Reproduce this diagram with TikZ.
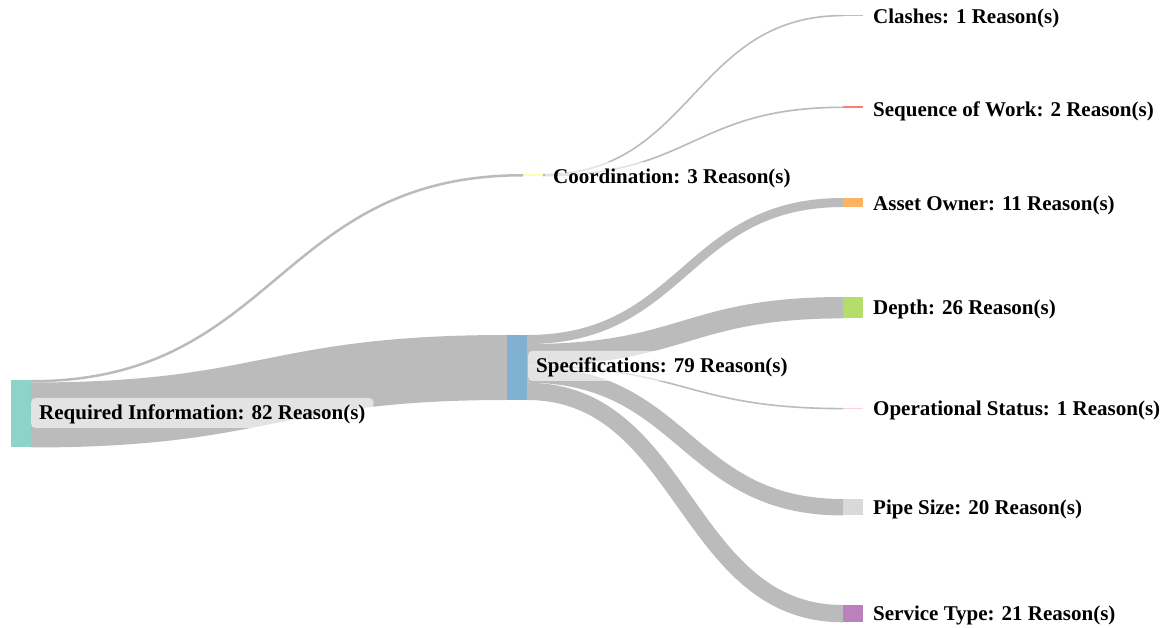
\documentclass[tikz,border=0pt]{standalone}
\usepackage{fontspec}
\setmainfont{Liberation Serif}
\usetikzlibrary{calc}

% Set3-style category colours
\definecolor{cReq}{HTML}{8DD3C7}
\definecolor{cSpec}{HTML}{80B1D3}
\definecolor{cCoord}{HTML}{FFFFB3}
\definecolor{cClash}{HTML}{BEBADA}
\definecolor{cSeq}{HTML}{FB8072}
\definecolor{cAsset}{HTML}{FDB462}
\definecolor{cDepth}{HTML}{B3DE69}
\definecolor{cOper}{HTML}{FCCDE5}
\definecolor{cPipe}{HTML}{D9D9D9}
\definecolor{cServ}{HTML}{BC80BD}
\definecolor{cFlow}{HTML}{BBBBBB}

\tikzset{
  bar/.style={rectangle, draw=none, inner sep=0pt, outer sep=0pt,
    minimum width=20pt, anchor=north west},
  flow/.style={draw=cFlow, line cap=butt},
  lbl/.style={anchor=west, font=\fontsize{21}{25}\selectfont\bfseries,
    fill=white, fill opacity=0.6, text opacity=1, rounded corners=4pt,
    inner xsep=8pt, inner ysep=4pt, text height=18pt, text depth=4pt}
}

% \sflow{source}{offset at source}{target}{offset at target}{band width}
% (drawn stroke is never thinner than 1.6pt)
\newcommand\sflow[5]{%
  \pgfmathsetmacro\sflowlw{max(#5,1.6)}%
  \draw[flow, line width=\sflowlw pt]
    let \p1=($(#1.north east)+(0,{#2+#5/2})$),
        \p2=($(#3.north west)+(0,{#4+#5/2})$) in
    (\p1) .. controls ({(\x1+\x2)/2},\y1) and ({(\x1+\x2)/2},\y2) .. (\p2);
}

\begin{document}
\begin{tikzpicture}[x=1pt,y=-1pt]
\useasboundingbox (0,0) rectangle (1171,628);

% category bars
\node[bar, fill=cReq,   minimum height=67.5pt] (req)   at (11,380) {};
\node[bar, fill=cSpec,  minimum height=65pt]   (spec)  at (507,335) {};
\node[bar, fill=cCoord, minimum height=2.5pt]  (coord) at (523,174) {};
\node[bar, fill=cClash, minimum height=1.2pt]  (clash) at (843,15) {};
\node[bar, fill=cSeq,   minimum height=1.65pt] (seq)   at (843,106.5) {};
\node[bar, fill=cAsset, minimum height=9.05pt] (asset) at (843,198) {};
\node[bar, fill=cDepth, minimum height=21.4pt] (depth) at (843,297) {};
\node[bar, fill=cOper,  minimum height=1.2pt]  (oper)  at (843,408) {};
\node[bar, fill=cPipe,  minimum height=16.46pt] (pipe) at (843,499) {};
\node[bar, fill=cServ,  minimum height=17.28pt] (serv) at (843,605) {};

% flows
\sflow{req}{0}{coord}{0}{2.5}
\sflow{req}{2.5}{spec}{0}{65}
\sflow{coord}{0}{clash}{0}{1.2}
\sflow{coord}{0.82}{seq}{0}{1.65}
\sflow{spec}{0}{asset}{0}{9.05}
\sflow{spec}{9.05}{depth}{0}{21.4}
\sflow{spec}{30.45}{oper}{0}{1.2}
\sflow{spec}{31.27}{pipe}{0}{16.46}
\sflow{spec}{47.73}{serv}{0}{17.28}

% labels
\node[lbl] (lreq)   at (31,413)  {Required Information: 82 Reason(s)};
\node[lbl] (lspec)  at (528,366) {Specifications: 79 Reason(s)};
\node[lbl] (lcoord) at (545,177) {Coordination: 3 Reason(s)};
\node[lbl] (lclash) at (865,17)  {Clashes: 1 Reason(s)};
\node[lbl] (lseq)   at (865,110) {Sequence of Work: 2 Reason(s)};
\node[lbl] (lasset) at (865,204) {Asset Owner: 11 Reason(s)};
\node[lbl] (ldepth) at (865,308) {Depth: 26 Reason(s)};
\node[lbl] (loper)  at (865,409) {Operational Status: 1 Reason(s)};
\node[lbl] (lpipe)  at (865,507) {Pipe Size: 20 Reason(s)};
\node[lbl] (lserv)  at (865,613) {Service Type: 21 Reason(s)};
\end{tikzpicture}
\end{document}
